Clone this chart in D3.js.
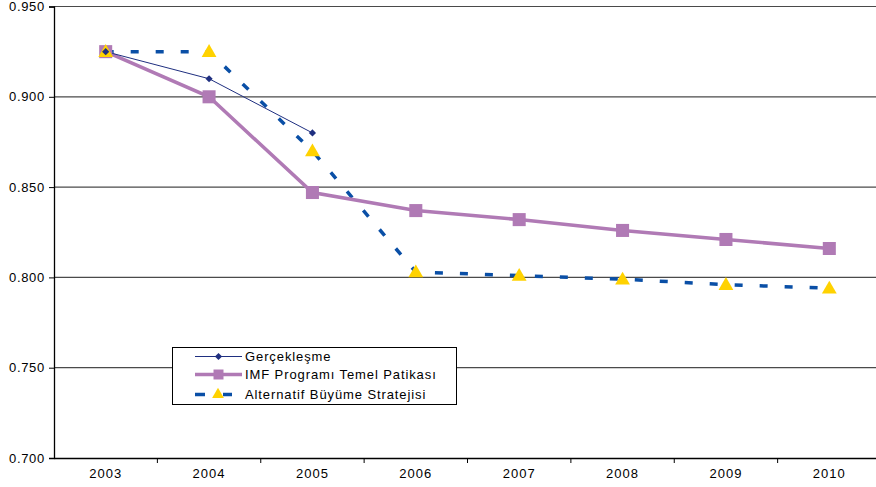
<!DOCTYPE html>
<html><head><meta charset="utf-8">
<script src="https://cdn.jsdelivr.net/npm/d3@7"></script>
<style>body{margin:0;background:#fff;} svg{display:block;font-family:"Liberation Sans",Arial,sans-serif;}</style>
</head><body><svg id="c" width="876" height="487"></svg>
<script>
const years = ["2003","2004","2005","2006","2007","2008","2009","2010"];
const gerceklesme = [0.925, 0.910, 0.880];
const imf = [0.925, 0.900, 0.847, 0.837, 0.832, 0.826, 0.821, 0.816];
const alternatif = [0.925, 0.925, 0.870, 0.803, 0.801, 0.799, 0.796, 0.794];
const yTicks = [0.700, 0.750, 0.800, 0.850, 0.900, 0.950];
const seriesNames = ["Gerçekleşme", "IMF Programı Temel Patikası", "Alternatif Büyüme Stratejisi"];

const svg = d3.select("#c");
const x = d3.scaleBand().domain(years).range([54, 881]);
const y = d3.scaleLinear().domain([0.700, 0.950]).range([458, 6.5]);
const cx = d => x(d) + x.bandwidth() / 2;

// gridlines
svg.append("g").selectAll("line").data(yTicks.filter(t => t > 0.7)).join("line")
  .attr("x1", 54).attr("x2", 876).attr("y1", d => y(d)).attr("y2", d => y(d))
  .attr("stroke", "#4a4a4a").attr("stroke-width", 1.2);

// axes
const yAxis = d3.axisLeft(y).tickValues(yTicks).tickFormat(d3.format(".3f")).tickSize(5).tickPadding(4);
const gy = svg.append("g").attr("transform", "translate(54,0)").call(yAxis);
gy.select(".domain").attr("stroke", "#000").attr("stroke-width", 1.3);
gy.selectAll(".tick line").attr("stroke", "#000");
gy.selectAll("text").attr("font-size", 13).attr("letter-spacing", 0.7).attr("fill", "#000")
  .attr("font-family", "Liberation Sans, Arial, sans-serif");

const xAxis = d3.axisBottom(x).tickSize(0).tickPadding(11);
const gx = svg.append("g").attr("transform", "translate(0,458)").call(xAxis);
gx.select(".domain").attr("stroke", "#000").attr("stroke-width", 1.3);
gx.selectAll("text").attr("font-size", 13).attr("letter-spacing", 1).attr("fill", "#000")
  .attr("font-family", "Liberation Sans, Arial, sans-serif");
// category boundary ticks
svg.append("g").selectAll("line").data(years.slice(1)).join("line")
  .attr("x1", d => x(d)).attr("x2", d => x(d)).attr("y1", 458).attr("y2", 463)
  .attr("stroke", "#000");

const line = d3.line().x((d, i) => cx(years[i])).y(d => y(d));

// Alternatif (dashed)
svg.append("path").datum(alternatif).attr("d", line).attr("fill", "none")
  .attr("stroke", "#0A4FA6").attr("stroke-width", 3.5).attr("stroke-dasharray", "8,17");
// IMF
svg.append("path").datum(imf).attr("d", line).attr("fill", "none")
  .attr("stroke", "#B07AB5").attr("stroke-width", 3.5);
// Gerçekleşme
svg.append("path").datum(gerceklesme).attr("d", line).attr("fill", "none")
  .attr("stroke", "#1F2F80").attr("stroke-width", 1);

const tri = d3.symbol().type(d3.symbolTriangle).size(95);
const sq = d3.symbol().type(d3.symbolSquare).size(170);
const dia = d3.symbol().type(d3.symbolSquare).size(26);

svg.append("g").selectAll("path").data(imf).join("path")
  .attr("d", sq).attr("transform", (d, i) => `translate(${cx(years[i])},${y(d)})`).attr("fill", "#B07AB5");
svg.append("g").selectAll("path").data(alternatif).join("path")
  .attr("d", tri).attr("transform", (d, i) => `translate(${cx(years[i])},${y(d)+1})`).attr("fill", "#FFD200");
svg.append("g").selectAll("path").data(gerceklesme).join("path")
  .attr("d", dia).attr("transform", (d, i) => `translate(${cx(years[i])},${y(d)}) rotate(45)`).attr("fill", "#1F2F80");

// legend
const lg = svg.append("g");
lg.append("rect").attr("x", 172.5).attr("y", 347.5).attr("width", 284).attr("height", 57)
  .attr("fill", "#fff").attr("stroke", "#000").attr("stroke-width", 1);
const rows = [356.5, 374.5, 394.5];
// row 1
lg.append("line").attr("x1", 195).attr("x2", 242).attr("y1", rows[0]).attr("y2", rows[0]).attr("stroke", "#1F2F80").attr("stroke-width", 1);
lg.append("path").attr("d", dia).attr("transform", `translate(218.5,${rows[0]}) rotate(45)`).attr("fill", "#1F2F80");
// row 2
lg.append("line").attr("x1", 195).attr("x2", 242).attr("y1", rows[1]).attr("y2", rows[1]).attr("stroke", "#B07AB5").attr("stroke-width", 3.5);
lg.append("path").attr("d", d3.symbol().type(d3.symbolSquare).size(100)).attr("transform", `translate(218.5,${rows[1]})`).attr("fill", "#B07AB5");
// row 3
lg.append("line").attr("x1", 195).attr("x2", 205).attr("y1", rows[2]).attr("y2", rows[2]).attr("stroke", "#0A4FA6").attr("stroke-width", 3.5);
lg.append("line").attr("x1", 223).attr("x2", 232).attr("y1", rows[2]).attr("y2", rows[2]).attr("stroke", "#0A4FA6").attr("stroke-width", 3.5);
lg.append("path").attr("d", d3.symbol().type(d3.symbolTriangle).size(60)).attr("transform", `translate(218,${rows[2]})`).attr("fill", "#FFD200");
lg.selectAll("text.lbl").data(seriesNames).join("text").attr("class", "lbl")
  .attr("x", 245).attr("y", (d, i) => rows[i] + 4.5).attr("font-size", 13).attr("letter-spacing", 0.9)
  .attr("fill", "#000").text(d => d);
</script></body></html>
